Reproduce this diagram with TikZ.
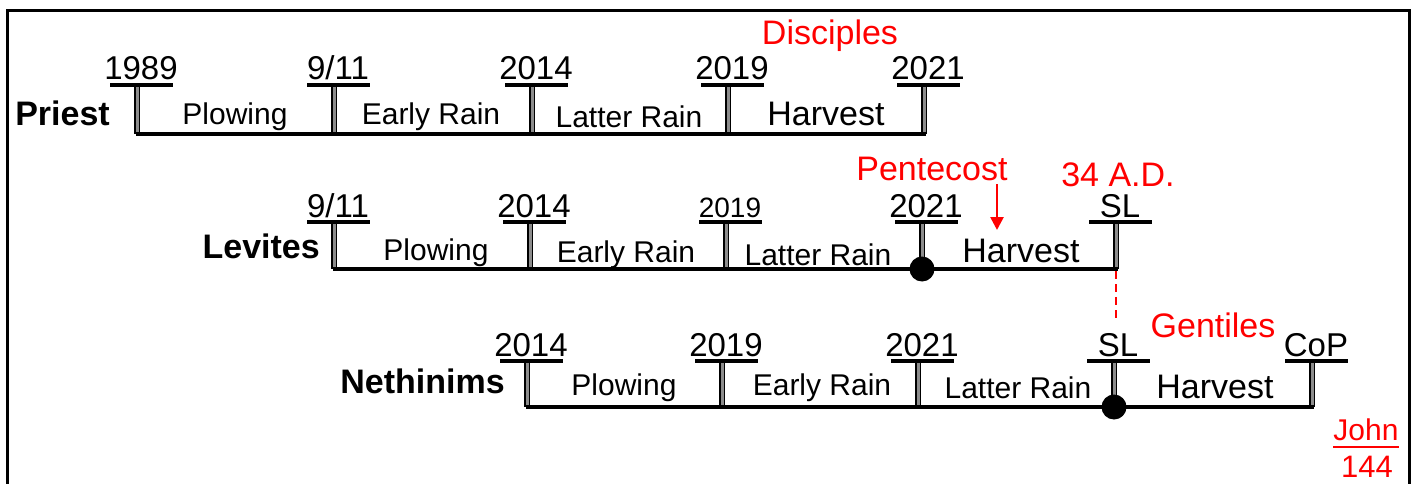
\documentclass[tikz,border=0pt]{standalone}
\usepackage{fontspec}
\setmainfont{Liberation Sans}
\usetikzlibrary{arrows.meta}
\definecolor{rd}{RGB}{255,0,0}
\newcommand{\yrmark}[6][yr]{%
  \coordinate (#2) at (#3,#4);
  \coordinate (#2t) at (#3,#5);
  \draw[tick] (#2t) -- (#2);
  \draw[bar] ([xshift=-27pt]#2t) -- ([xshift=36pt]#2t);
  \node[#1] (#2l) at ([xshift=4pt,yshift=5pt]#2t) {#6};
}
\begin{document}
\begin{tikzpicture}[x=1pt,y=-1pt,
  tl/.style={line width=3.8pt},
  tick/.style={draw=black, line width=1.3pt, double=black!45, double distance=3pt},
  bar/.style={line width=4.5pt},
  yr/.style={anchor=base, font=\fontsize{33}{36}\selectfont, inner sep=0pt},
  yrs/.style={yr, font=\fontsize{28}{30}\selectfont},
  seg/.style={anchor=base, font=\fontsize{30}{33}\selectfont, inner sep=0pt},
  hv/.style={anchor=base, font=\fontsize{34}{36}\selectfont, inner sep=0pt},
  who/.style={anchor=base east, font=\bfseries\fontsize{34}{36}\selectfont, inner sep=0pt},
  rtxt/.style={anchor=base, text=rd, font=\fontsize{34}{36}\selectfont, inner sep=0pt},
  dot/.style={circle, fill=black, inner sep=0pt, minimum size=25pt}
]
\useasboundingbox (0,0) rectangle (1414,484);
\draw[line width=3pt] (7,495) -- (7,11) -- (1409,11) -- (1409,495);

% Priest row
\yrmark{p1}{137}{134}{85}{1989}
\yrmark{p2}{334}{134}{85}{9/11}
\yrmark{p3}{532}{134}{85}{2014}
\yrmark{p4}{728}{134}{85}{2019}
\yrmark{p5}{924}{134}{85}{2021}
\draw[tl] ([xshift=-1.5pt]p1) -- ([xshift=2pt]p5);
\node[who] (priest) at (110,126) {Priest};
\node[seg] (ps1) at (235,125) {Plowing};
\node[seg] (ps2) at (431,125) {Early Rain};
\node[seg] (ps3) at (629,128) {Latter Rain};
\node[hv]  (ps4) at (826,126) {Harvest};
\node[rtxt] (disc) at (830,45) {Disciples};

% Levites row
\yrmark{l1}{334}{269}{222}{9/11}
\yrmark{l2}{530}{269}{222}{2014}
\yrmark[yrs]{l3}{726}{269}{222}{2019}
\yrmark{l4}{922}{269}{222}{2021}
\yrmark{l5}{1116}{269}{222}{SL}
\draw[tl] ([xshift=-1.5pt]l1) -- ([xshift=2pt]l5);
\node[dot] (ld) at (l4) {};
\node[who] (levites) at (320,258) {Levites};
\node[seg] (ls1) at (436,260) {Plowing};
\node[seg] (ls2) at (626,262) {Early Rain};
\node[seg] (ls3) at (818,265) {Latter Rain};
\node[hv]  (ls4) at (1021,262) {Harvest};
\node[rtxt] (pent) at (932,180) {Pentecost};
\node[rtxt] (ad) at (1118,186) {34 A.D.};
\coordinate (pa) at (997,184);
\coordinate (pb) at (997,230);
\draw[rd, line width=2.6pt, -{Triangle[length=13pt,width=13pt]}] (pa) -- (pb);

% Nethinims row
\yrmark{n1}{527}{407}{361}{2014}
\yrmark{n2}{722}{407}{361}{2019}
\yrmark{n3}{918}{407}{361}{2021}
\yrmark{n4}{1114}{407}{361}{SL}
\yrmark{n5}{1312}{407}{361}{CoP}
\draw[tl] ([xshift=-1.5pt]n1) -- ([xshift=2pt]n5);
\node[dot] (nd) at (n4) {};
\node[who] (neth) at (505,393) {Nethinims};
\node[seg] (ns1) at (624,395) {Plowing};
\node[seg] (ns2) at (822,395) {Early Rain};
\node[seg] (ns3) at (1018,398) {Latter Rain};
\node[hv]  (ns4) at (1215,398) {Harvest};
\node[rtxt] (gent) at (1213,337) {Gentiles};

% dashed link
\coordinate (dend) at (1116,320);
\draw[rd, line width=2.4pt, dash pattern=on 8pt off 5pt] ([yshift=-2pt]l5) -- (dend);

% John 144
\node[rtxt, font=\fontsize{30}{32}\selectfont] (john) at (1366,440) {John};
\draw[rd, line width=1.6pt] ([yshift=-7pt]john.base west) -- ([yshift=-7pt]john.base east);
\node[rtxt, font=\fontsize{31}{32}\selectfont] (num) at (1367,477) {144};
\end{tikzpicture}
\end{document}
